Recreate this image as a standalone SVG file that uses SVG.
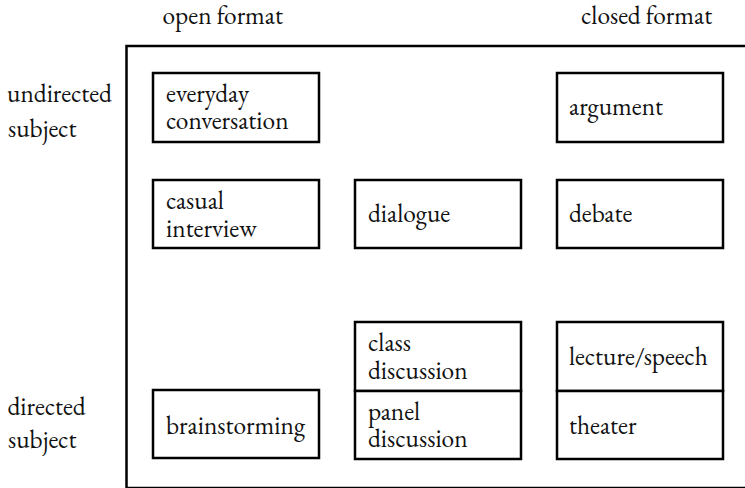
<svg xmlns="http://www.w3.org/2000/svg" width="745" height="488" viewBox="0 0 745 488">
<style>
.box{fill:#fff;stroke:#000;stroke-width:2.5}
.frame{fill:none;stroke:#000;stroke-width:2.5}
</style>
<rect width="745" height="488" fill="#fff"/>
<g font-family="'EB Garamond', 'Liberation Serif', serif" font-size="25.4" fill="#111">
<rect class="frame" x="126.5" y="46" width="700" height="442"/>
<g id="headers">
<text x="162.5" y="24">open format</text>
<text x="581" y="24">closed format</text>
<text x="7" y="102">undirected</text>
<text x="8" y="137">subject</text>
<text x="7.5" y="414.5">directed</text>
<text x="8" y="448">subject</text>
</g>
<g id="connectors"></g>
<g id="n-everyday"><rect class="box" x="153" y="73" width="166" height="69"/><text x="166" y="102">everyday</text><text x="166" y="129">conversation</text></g>
<g id="n-argument"><rect class="box" x="557" y="73" width="166" height="69"/><text x="569" y="115">argument</text></g>
<g id="n-casual"><rect class="box" x="153" y="180" width="166" height="68"/><text x="166" y="209">casual</text><text x="166" y="236.5">interview</text></g>
<g id="n-dialogue"><rect class="box" x="355" y="180" width="166" height="68"/><text x="368" y="222">dialogue</text></g>
<g id="n-debate"><rect class="box" x="557" y="180" width="166" height="68"/><text x="569" y="222">debate</text></g>
<g id="n-class"><rect class="box" x="355" y="322" width="166" height="69"/><text x="368" y="351">class</text><text x="368" y="378.5">discussion</text></g>
<g id="n-panel"><rect class="box" x="355" y="391" width="166" height="68"/><text x="368" y="420">panel</text><text x="368" y="447">discussion</text></g>
<g id="n-lecture"><rect class="box" x="557" y="322" width="166" height="69"/><text x="569" y="365">lecture/speech</text></g>
<g id="n-theater"><rect class="box" x="557" y="391" width="166" height="68"/><text x="569" y="433.5">theater</text></g>
<g id="n-brainstorming"><rect class="box" x="153" y="390" width="166" height="68"/><text x="166" y="433.5">brainstorming</text></g>
</g>
</svg>
